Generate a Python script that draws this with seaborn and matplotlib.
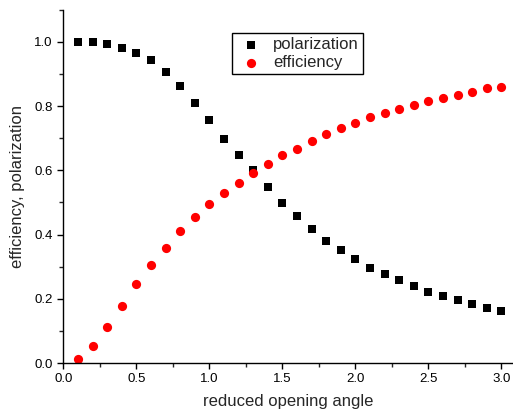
import numpy as np
import pandas as pd
import matplotlib
matplotlib.use("Agg")
import matplotlib.pyplot as plt
from matplotlib.ticker import MultipleLocator
import seaborn as sns

sns.set_style("ticks")
plt.rcParams['font.family'] = ['Liberation Sans', 'DejaVu Sans']

# reduced opening angle
angle = [0.1, 0.2, 0.3, 0.4, 0.5, 0.6, 0.7, 0.8, 0.9, 1.0,
         1.1, 1.2, 1.3, 1.4, 1.5, 1.6, 1.7, 1.8, 1.9, 2.0,
         2.1, 2.2, 2.3, 2.4, 2.5, 2.6, 2.7, 2.8, 2.9, 3.0]
polarization = [1.000, 1.000, 0.994, 0.980, 0.964, 0.944, 0.905, 0.862, 0.809, 0.758,
                0.697, 0.647, 0.601, 0.548, 0.498, 0.457, 0.417, 0.380, 0.351, 0.323,
                0.297, 0.277, 0.258, 0.240, 0.221, 0.208, 0.195, 0.184, 0.171, 0.163]
efficiency = [0.013, 0.054, 0.113, 0.178, 0.245, 0.305, 0.359, 0.412, 0.456, 0.494,
              0.530, 0.562, 0.592, 0.620, 0.647, 0.668, 0.690, 0.714, 0.733, 0.749,
              0.765, 0.778, 0.792, 0.803, 0.816, 0.826, 0.835, 0.843, 0.855, 0.860]

df = pd.DataFrame({'angle': angle, 'polarization': polarization, 'efficiency': efficiency})

fig = plt.figure(figsize=(5.13, 4.15), dpi=100)
ax = fig.add_axes([0.1234, 0.1253, 0.8766, 0.851])

sns.scatterplot(data=df, x='angle', y='polarization', marker='s', color='black',
                s=34, linewidth=0, label='polarization', ax=ax)
sns.scatterplot(data=df, x='angle', y='efficiency', marker='o', color='red',
                s=44, linewidth=0, label='efficiency', ax=ax)

ax.set_xlim(0, 3.08)
ax.set_ylim(0, 1.1)
ax.xaxis.set_major_locator(MultipleLocator(0.5))
ax.xaxis.set_minor_locator(MultipleLocator(0.25))
ax.yaxis.set_major_locator(MultipleLocator(0.2))
ax.yaxis.set_minor_locator(MultipleLocator(0.1))
ax.tick_params(which='major', direction='out', length=4, width=1, labelsize=9.5, colors='black')
ax.tick_params(which='minor', direction='out', length=3, width=1)
sns.despine(ax=ax)
for s in ['left', 'bottom']:
    ax.spines[s].set_linewidth(1)
    ax.spines[s].set_color('black')

ax.set_xlabel('reduced opening angle', fontsize=12, labelpad=6)
ax.set_ylabel('efficiency, polarization', fontsize=12, labelpad=7)

leg = ax.legend(loc='upper left', bbox_to_anchor=(0.375, 0.935), fontsize=12,
                frameon=True, fancybox=False, edgecolor='black', framealpha=1,
                handletextpad=0.4, handlelength=1.8, borderpad=0.25,
                labelspacing=0.2, borderaxespad=0)
leg.get_frame().set_linewidth(1)

fig.savefig('out.png', dpi=100)
